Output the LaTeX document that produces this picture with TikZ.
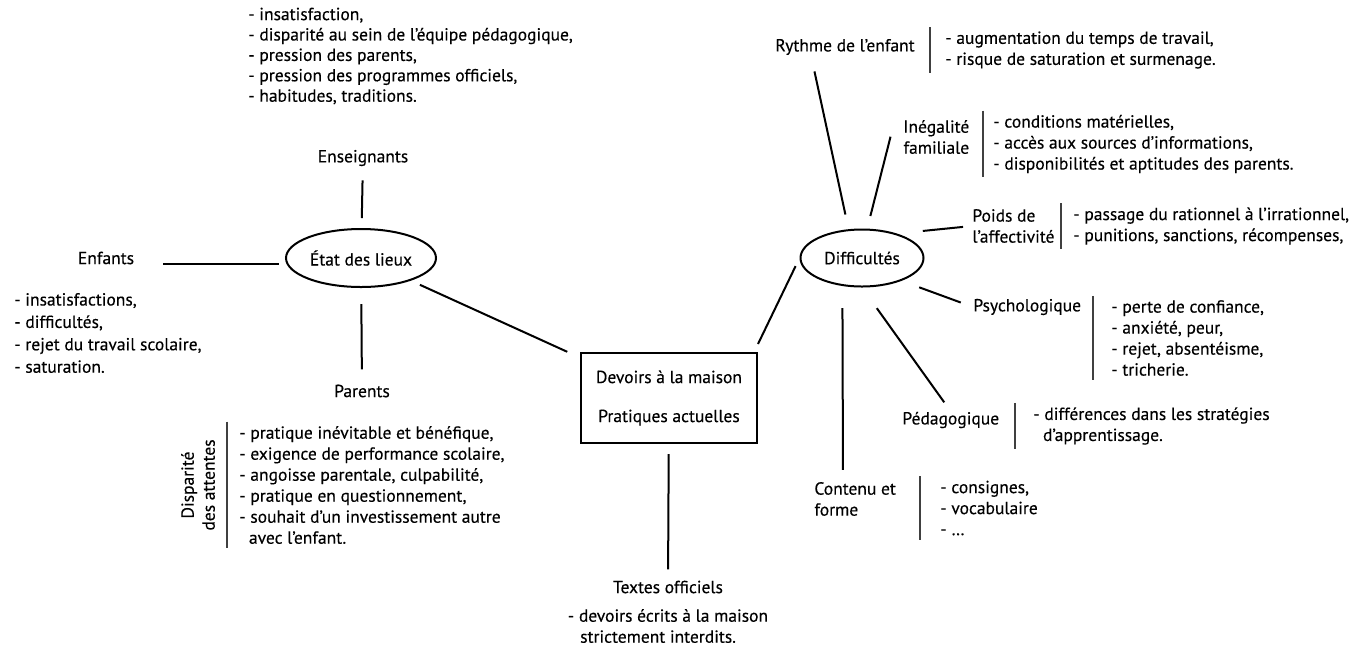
\documentclass[tikz,border=0pt]{standalone}
\usepackage{fontspec}
\setmainfont{PT Sans}[FakeBold=0.3]
\usetikzlibrary{shapes.geometric}
\begin{document}
\begin{tikzpicture}[x=0.5pt,y=-0.5pt,
  lbl/.style={inner sep=0pt, font=\fontsize{8.75}{10.5}\selectfont},
  blk/.style={lbl, align=left, anchor=west},
  hub/.style={ellipse, draw, line width=1pt, inner sep=0pt, font=\fontsize{8.75}{10.5}\selectfont},
  conn/.style={line width=1pt},
  sepbar/.style={line width=0.6pt, black!75}]
\useasboundingbox (0,0) rectangle (1367,650);

% left part
\node[blk, font=\fontsize{8.75}{10.2}\selectfont] (top) at (248,56) {- insatisfaction,\\- disparité au sein de l’équipe pédagogique,\\- pression des parents,\\- pression des programmes officiels,\\- habitudes, traditions.};
\node[lbl] (ens) at (363,158) {Enseignants};
\node[hub, minimum width=75pt, minimum height=29pt] (etat) at (361,258) {État des lieux};
\node[lbl] (enf) at (106,258) {Enfants};
\node[blk, font=\fontsize{8.75}{11.2}\selectfont] (enfb) at (14,333) {- insatisfactions,\\- difficultés,\\- rejet du travail scolaire,\\- saturation.};
\node[lbl] (par) at (362,391) {Parents};
\node[lbl, rotate=90, align=center] (disp) at (198,485) {Disparité\\des attentes};
\node[blk] (parb) at (239,485) {- pratique inévitable et bénéfique,\\- exigence de performance scolaire,\\- angoisse parentale, culpabilité,\\- pratique en questionnement,\\- souhait d’un investissement autre\\\hspace{0.55em}avec l’enfant.};

% centre
\node[lbl, draw, line width=1pt, minimum width=88pt, minimum height=45pt, align=center] (box) at (669,398) {Devoirs à la maison\\[9pt]Pratiques actuelles};
\node[lbl] (tex) at (668,587) {Textes officiels};
\node[lbl, align=left] (texb) at (668,626) {- devoirs écrits à la maison\\\hspace{0.7em}strictement interdits.};

% right part
\node[hub, minimum width=61.5pt, minimum height=28.5pt] (diff) at (862,258) {Difficultés};
\node[blk] (ryt) at (775,47) {Rythme de l’enfant};
\node[blk] (rytb) at (945,50) {- augmentation du temps de travail,\\- risque de saturation et surmenage.};
\node[lbl, align=center, anchor=west] (ineg) at (903,137) {Inégalité\\familiale};
\node[blk] (inegb) at (993,144) {- conditions matérielles,\\- accès aux sources d’informations,\\- disponibilités et aptitudes des parents.};
\node[blk] (poids) at (972,226) {Poids de\\l’affectivité};
\node[blk] (poidsb) at (1073,226) {- passage du rationnel à l’irrationnel,\\- punitions, sanctions, récompenses,};
\node[blk] (psy) at (973,307) {Psychologique};
\node[blk] (psyb) at (1111,338) {- perte de confiance,\\- anxiété, peur,\\- rejet, absentéisme,\\- tricherie.};
\node[blk] (ped) at (902,420) {Pédagogique};
\node[blk] (pedb) at (1033,426) {- différences dans les stratégies\\\hspace{0.55em}d’apprentissage.};
\node[blk] (cont) at (814,499) {Contenu et\\forme};
\node[blk] (contb) at (940,508) {- consignes,\\- vocabulaire\\- \dots};

% separator bars
\draw[sepbar] ([xshift=-6pt,yshift=2pt]parb.north west) -- ([xshift=-6pt,yshift=-2pt]parb.south west);
\draw[sepbar] ([xshift=-7.5pt,yshift=2pt]rytb.north west) -- ([xshift=-7.5pt,yshift=-2pt]rytb.south west);
\draw[sepbar] ([xshift=-5pt,yshift=2pt]inegb.north west) -- ([xshift=-5pt,yshift=-2pt]inegb.south west);
\draw[sepbar] ([xshift=-6pt,yshift=2pt]poidsb.north west) -- ([xshift=-6pt,yshift=-2pt]poidsb.south west);
\draw[sepbar] ([xshift=-9pt,yshift=2pt]psyb.north west) -- ([xshift=-9pt,yshift=-2pt]psyb.south west);
\draw[sepbar] ([xshift=-9pt,yshift=2pt]pedb.north west) -- ([xshift=-9pt,yshift=-2pt]pedb.south west);
\draw[sepbar] ([xshift=-10pt,yshift=2pt]contb.north west) -- ([xshift=-10pt,yshift=-2pt]contb.south west);

% connectors, left
\draw[conn, shorten <=7pt, shorten >=5pt] (ens) -- (etat);
\draw[conn, shorten <=14.5pt, shorten >=3pt] ([yshift=-3pt]enf.east) -- ([yshift=-3pt]etat.west);
\draw[conn, shorten <=8pt, shorten >=7.5pt] (etat) -- (par);
\draw[conn, shorten <=5pt, shorten >=7pt] (etat) -- (box);
\draw[conn, shorten <=5pt, shorten >=5.5pt] (box) -- (tex);
\draw[conn, shorten >=4.5pt] ([yshift=4pt]box.north east) -- (diff.west);

% connectors, right
\draw[conn, shorten <=7.5pt, shorten >=8.2pt] (diff.115) -- ([xshift=18pt]ryt.south west);
\draw[conn, shorten <=6.5pt, shorten >=5pt] (diff.80) -- ([xshift=-5pt,yshift=5pt]ineg.west);
\draw[conn, shorten <=13pt, shorten >=4.5pt] (diff.35) -- (poids.west);
\draw[conn, shorten <=9.4pt, shorten >=6.5pt] (diff.-30) -- (psy.west);
\draw[conn, shorten <=12.7pt, shorten >=5.6pt] (diff.south) -- (ped.north);
\draw[conn, shorten <=11pt, shorten >=6pt] (diff.235) -- ([xshift=14.5pt]cont.north west);
\end{tikzpicture}
\end{document}
